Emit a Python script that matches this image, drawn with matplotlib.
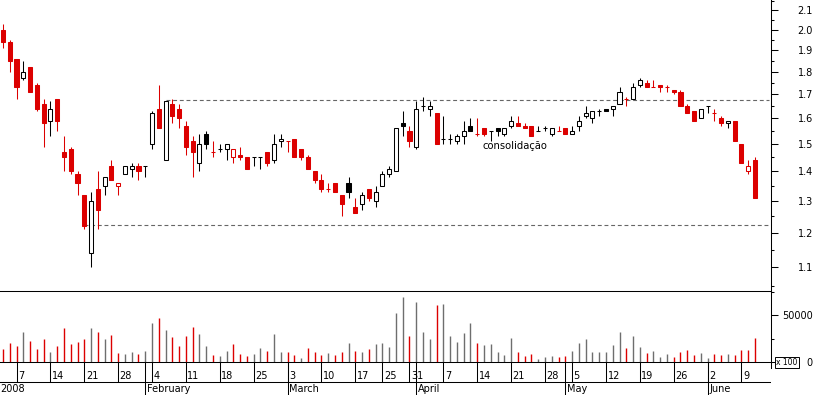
import numpy as np
import pandas as pd
import matplotlib
matplotlib.use('Agg')
import matplotlib.pyplot as plt
from matplotlib.patches import Rectangle
from matplotlib.ticker import FixedLocator, FixedFormatter, NullFormatter
import matplotlib.transforms as mtransforms

plt.rcParams['font.family'] = ['DejaVu Sans']
plt.rcParams['font.size'] = 7

# trading days (Euronext Lisbon); 2 Jan is only the reference close
holidays = ['2008-03-21', '2008-03-24', '2008-05-01']
dates = pd.bdate_range('2008-01-02', '2008-06-11', freq='C', holidays=holidays)
prev_close = 2.05

opens = [2.00, 1.94, 1.86, 1.77, 1.82, 1.74, 1.66, 1.59, 1.68, 1.47,
         1.48, 1.39, 1.32, 1.14, 1.34, 1.35, 1.42, 1.35, 1.39, 1.41,
         1.42, 1.42, 1.50, 1.64, 1.44, 1.66, 1.64, 1.57, 1.51, 1.43,
         1.54, 1.47, 1.48, 1.48, 1.45, 1.46, 1.45, 1.45, 1.45, 1.47,
         1.44, 1.51, 1.51, 1.52, 1.48, 1.45, 1.40, 1.37, 1.34, 1.36,
         1.32, 1.36, 1.28, 1.29, 1.34, 1.30, 1.35, 1.39, 1.40, 1.58,
         1.55, 1.49, 1.65, 1.64, 1.62, 1.52, 1.52, 1.51, 1.53, 1.57,
         1.54, 1.56, 1.55, 1.56, 1.54, 1.57, 1.58, 1.57, 1.57, 1.55,
         1.56, 1.54, 1.55, 1.56, 1.54, 1.57, 1.61, 1.60, 1.63, 1.64,
         1.64, 1.66, 1.68, 1.68, 1.74, 1.75, 1.73, 1.74, 1.73, 1.72,
         1.71, 1.65, 1.63, 1.60, 1.65, 1.62, 1.60, 1.58, 1.59, 1.50,
         1.40, 1.44]
highs = [2.03, 1.95, 1.86, 1.85, 1.82, 1.75, 1.68, 1.67, 1.68, 1.53,
         1.49, 1.40, 1.32, 1.33, 1.40, 1.38, 1.44, 1.36, 1.42, 1.43,
         1.43, 1.42, 1.63, 1.74, 1.67, 1.68, 1.66, 1.59, 1.53, 1.54,
         1.55, 1.51, 1.50, 1.50, 1.48, 1.49, 1.45, 1.45, 1.45, 1.47,
         1.54, 1.54, 1.51, 1.52, 1.48, 1.46, 1.40, 1.39, 1.36, 1.36,
         1.32, 1.38, 1.31, 1.33, 1.34, 1.35, 1.40, 1.42, 1.56, 1.63,
         1.57, 1.67, 1.69, 1.67, 1.62, 1.61, 1.54, 1.54, 1.59, 1.60,
         1.60, 1.56, 1.55, 1.56, 1.56, 1.61, 1.61, 1.58, 1.57, 1.57,
         1.57, 1.56, 1.57, 1.56, 1.57, 1.61, 1.65, 1.63, 1.64, 1.64,
         1.65, 1.73, 1.69, 1.75, 1.77, 1.76, 1.76, 1.74, 1.74, 1.72,
         1.72, 1.66, 1.63, 1.64, 1.65, 1.64, 1.61, 1.59, 1.59, 1.50,
         1.44, 1.45]
lows = [1.91, 1.80, 1.68, 1.76, 1.71, 1.63, 1.49, 1.53, 1.55, 1.40,
        1.39, 1.32, 1.21, 1.10, 1.21, 1.32, 1.37, 1.32, 1.39, 1.38,
        1.37, 1.38, 1.48, 1.56, 1.44, 1.58, 1.56, 1.46, 1.38, 1.40,
        1.48, 1.45, 1.47, 1.44, 1.43, 1.44, 1.41, 1.42, 1.41, 1.42,
        1.43, 1.49, 1.47, 1.45, 1.44, 1.41, 1.36, 1.33, 1.33, 1.33,
        1.25, 1.31, 1.26, 1.27, 1.30, 1.28, 1.35, 1.38, 1.40, 1.53,
        1.49, 1.48, 1.63, 1.61, 1.50, 1.50, 1.50, 1.50, 1.50, 1.55,
        1.53, 1.53, 1.51, 1.53, 1.53, 1.56, 1.57, 1.56, 1.53, 1.55,
        1.55, 1.53, 1.55, 1.54, 1.54, 1.55, 1.60, 1.58, 1.61, 1.63,
        1.61, 1.66, 1.65, 1.68, 1.73, 1.73, 1.73, 1.71, 1.71, 1.70,
        1.65, 1.62, 1.59, 1.60, 1.62, 1.59, 1.57, 1.56, 1.51, 1.43,
        1.39, 1.31]
closes = [1.94, 1.85, 1.73, 1.80, 1.71, 1.64, 1.58, 1.64, 1.59, 1.45,
          1.40, 1.36, 1.22, 1.30, 1.27, 1.38, 1.37, 1.36, 1.42, 1.42,
          1.40, 1.42, 1.62, 1.56, 1.67, 1.61, 1.60, 1.49, 1.47, 1.50,
          1.50, 1.47, 1.48, 1.50, 1.48, 1.45, 1.41, 1.45, 1.45, 1.43,
          1.50, 1.52, 1.51, 1.45, 1.45, 1.41, 1.37, 1.34, 1.34, 1.33,
          1.29, 1.33, 1.26, 1.32, 1.31, 1.33, 1.39, 1.41, 1.56, 1.57,
          1.51, 1.64, 1.65, 1.65, 1.50, 1.52, 1.52, 1.53, 1.55, 1.55,
          1.54, 1.54, 1.55, 1.55, 1.56, 1.59, 1.57, 1.56, 1.53, 1.55,
          1.56, 1.56, 1.55, 1.54, 1.55, 1.59, 1.62, 1.63, 1.63, 1.63,
          1.65, 1.71, 1.68, 1.73, 1.76, 1.73, 1.73, 1.73, 1.73, 1.71,
          1.65, 1.62, 1.59, 1.64, 1.65, 1.62, 1.58, 1.59, 1.51, 1.43,
          1.42, 1.31]
volumes = [13600, 20000, 16800, 31800, 22100, 13600, 24300, 10400, 16800, 36000,
           18900, 21000, 24300, 36000, 31800, 24300, 28600, 9300, 8200, 10400,
           8200, 11400, 41400, 46800, 33900, 26400, 16800, 27500, 37100, 29600,
           16800, 7100, 6100, 11400, 18900, 8200, 6100, 8200, 14600, 11400,
           29600, 10400, 10400, 7100, 3900, 14600, 10400, 7100, 9300, 7100,
           10400, 20000, 11400, 10400, 13600, 18900, 20000, 15700, 52100, 69300,
           27500, 63900, 31800, 24300, 60700, 61800, 27500, 21000, 30700, 41400,
           20000, 17900, 18900, 10400, 7100, 25300, 10400, 6100, 8200, 2900,
           5000, 6100, 5000, 6100, 11400, 20000, 24300, 10400, 10400, 10400,
           17900, 31800, 14600, 27500, 15700, 9300, 11400, 5000, 8200, 5000,
           10400, 12500, 7100, 9300, 3900, 8200, 7100, 8200, 7100, 12500,
           12500, 25300]

month_names = ['January', 'February', 'March', 'April', 'May', 'June']
resistance = ('2008-02-06', 1.675)
support = ('2008-01-21', 1.222)
note = ('2008-04-15', 1.494, 'consolidação')

RED = '#dc0000'
GREY = '#6e6e6e'

# candle colour: versus previous close, unchanged keeps the last colour
ref = [prev_close] + closes[:-1]
cols = []
last = RED
for c, p in zip(closes, ref):
    if c > p:
        last = 'black'
    elif c < p:
        last = RED
    cols.append(last)
vol_cols = [RED if c < p else GREY for c, p in zip(closes, ref)]

W, H = 817.0, 395.0


def px_box(x0, y0, x1, y1):
    return [x0 / W, 1 - y1 / H, (x1 - x0) / W, (y1 - y0) / H]


fig = plt.figure(figsize=(8.17, 3.95), dpi=100)
ax_p = fig.add_axes(px_box(0, 0, 771, 291))
ax_v = fig.add_axes(px_box(0, 291, 771, 368))
ax_d = fig.add_axes(px_box(0, 362, 771, 395))
ax_d.patch.set_visible(False)
ax_v.patch.set_visible(False)

pos = np.arange(1, len(dates))
x_lo, x_hi = 0.56, len(dates) + 1.36
bw = 0.6
LW = 0.75

# price panel
for x, o, h, l, c, col in zip(pos, opens, highs, lows, closes, cols):
    ax_p.vlines(x, l, h, color=col, lw=LW, zorder=2)
    face = col if c < o else 'white'
    ax_p.add_patch(Rectangle((x - bw / 2, min(o, c)), bw, abs(c - o),
                             facecolor=face, edgecolor=col, lw=LW, zorder=3))

ax_p.set_yscale('log')
ax_p.set_xlim(x_lo, x_hi)
ax_p.set_ylim(1.0363, 2.155)

for d, lvl in (resistance, support):
    k = dates.get_loc(pd.Timestamp(d))
    ax_p.plot([k, x_hi - 0.3], [lvl, lvl], color='#666666', lw=0.8,
              dashes=(3.5, 2.5), zorder=1)

k_note = dates.get_loc(pd.Timestamp(note[0]))
ax_p.text(k_note - 0.15, note[1], note[2], ha='left', va='center', fontsize=7.2)

major = np.round(np.arange(1.1, 2.15, 0.1), 2)
minor = np.round(np.arange(1.05, 2.2, 0.1), 2)
ax_p.yaxis.set_major_locator(FixedLocator(major))
ax_p.yaxis.set_major_formatter(FixedFormatter([f'{v:.1f}' for v in major]))
ax_p.yaxis.set_minor_locator(FixedLocator(minor))
ax_p.yaxis.set_minor_formatter(NullFormatter())
ax_p.yaxis.tick_right()
ax_p.tick_params(axis='y', which='major', length=5, width=LW, direction='out', pad=25.2)
ax_p.tick_params(axis='y', which='minor', length=2.5, width=LW, direction='out')
ax_p.set_xticks([])
for t in ax_p.yaxis.get_major_ticks():
    t.label2.set_horizontalalignment('right')
for s in ('top', 'left'):
    ax_p.spines[s].set_visible(False)
for s in ('bottom', 'right'):
    ax_p.spines[s].set_linewidth(LW)

# volume panel
ax_v.vlines(pos, 0, volumes, colors=vol_cols, lw=1.0)
ax_v.set_xlim(x_lo, x_hi)
ax_v.set_ylim(-6383, 75532)
ax_v.yaxis.tick_right()
ax_v.yaxis.set_major_locator(FixedLocator([0, 50000]))
ax_v.yaxis.set_major_formatter(FixedFormatter(['0', '50000']))
ax_v.yaxis.set_minor_locator(FixedLocator([25000, 75000]))
ax_v.tick_params(axis='y', which='major', length=5, width=LW, direction='out', pad=25.2)
ax_v.tick_params(axis='y', which='minor', length=2.5, width=LW, direction='out')
ax_v.set_xticks([])
for t in ax_v.yaxis.get_major_ticks():
    t.label2.set_horizontalalignment('right')
for s in ('top', 'left', 'bottom'):
    ax_v.spines[s].set_visible(False)
ax_v.spines['right'].set_linewidth(LW)
ax_v.text(1.0065, 0.075, 'x 100', transform=ax_v.transAxes, ha='left', va='center',
          fontsize=5.5, bbox=dict(boxstyle='square,pad=0.15', fc='white', ec='black', lw=0.7))

# date strip
ax_d.set_xlim(x_lo, x_hi)
ax_d.set_ylim(0, 1)
ax_d.set_xticks([])
ax_d.set_yticks([])
for s in ('bottom', 'left', 'right'):
    ax_d.spines[s].set_visible(False)
ax_d.spines['top'].set_linewidth(LW)
mid = 0.403
ax_d.axhline(mid, color='black', lw=LW)

weeks = dates.isocalendar().week.values
months = dates.month.values
week_k = [k for k in range(1, len(dates)) if weeks[k] != weeks[k - 1]]
month_k = [0] + [k for k in range(1, len(dates)) if months[k] != months[k - 1]]
tr = mtransforms.offset_copy(ax_d.transData, fig=fig, x=1.5, y=0, units='dots')

ax_d.vlines(week_k, mid, 1, color='black', lw=LW)
ax_d.vlines(month_k, 0, 1, color='black', lw=LW)
for k in week_k:
    ax_d.text(k, 0.485, str(dates[k].day), transform=tr, ha='left', va='baseline', fontsize=7)
for k in month_k:
    m = dates[k].month
    lab = str(dates[k].year) if m == 1 else month_names[m - 1]
    # the first label would start left of the frame, pin it to the edge
    ax_d.text(max(k, x_lo - 0.2), 0.106, lab, transform=tr, ha='left', va='baseline', fontsize=7)

fig.savefig('out.png', dpi=100)
